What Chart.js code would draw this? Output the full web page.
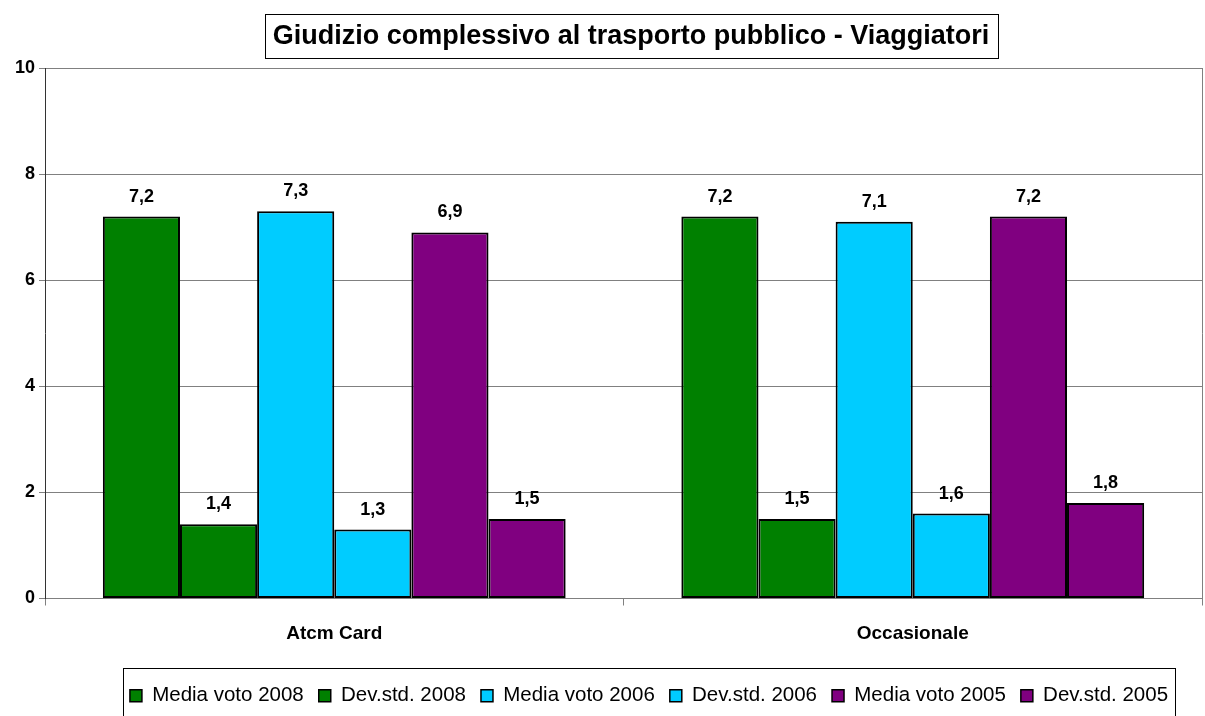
<!DOCTYPE html>
<html>
<head>
<meta charset="utf-8">
<script src="https://cdn.jsdelivr.net/npm/chart.js@4/dist/chart.umd.min.js"></script>
<style>
  html, body { margin: 0; padding: 0; background: #fff; }
  #wrap { width: 1205px; height: 716px; position: relative; }
</style>
</head>
<body>
<div id="wrap"><canvas id="chart"></canvas></div>
<script>
const categories = ['Atcm Card', 'Occasionale'];
const seriesNames = ['Media voto 2008', 'Dev.std. 2008', 'Media voto 2006', 'Dev.std. 2006', 'Media voto 2005', 'Dev.std. 2005'];
const media2008 = [7.2, 7.2];
const dev2008 = [1.4, 1.5];
const media2006 = [7.3, 7.1];
const dev2006 = [1.3, 1.6];
const media2005 = [6.9, 7.2];
const dev2005 = [1.5, 1.8];
const yTicks = [0, 2, 4, 6, 8, 10];
const titleText = 'Giudizio complessivo al trasporto pubblico - Viaggiatori';

const GREEN = '#008000';
const CYAN = '#00CCFF';
const PURPLE = '#800080';
const FONT = '"Liberation Sans", Arial, Helvetica, sans-serif';

const seriesValues = [media2008, dev2008, media2006, dev2006, media2005, dev2005];
const seriesColors = [GREEN, GREEN, CYAN, CYAN, PURPLE, PURPLE];

const datasets = seriesNames.map((name, i) => ({
  label: name,
  data: seriesValues[i],
  backgroundColor: seriesColors[i],
  borderColor: '#000',
  borderWidth: 2,
  borderSkipped: false
}));

const titleBox = {
  id: 'titleBox',
  afterDraw(chart) {
    const c = chart.ctx;
    c.save();
    c.font = 'bold 27px ' + FONT;
    c.fillStyle = '#000';
    c.textAlign = 'center';
    c.textBaseline = 'middle';
    const cx = 631, cy = 37;
    const w = c.measureText(titleText).width;
    c.fillText(titleText, cx, cy);
    c.strokeStyle = '#000';
    c.lineWidth = 1;
    c.strokeRect(Math.round(cx - w / 2 - 8) + 0.5, 14.5, Math.round(w + 16), 44);
    c.restore();
  }
};

const valueLabels = {
  id: 'valueLabels',
  afterDatasetsDraw(chart) {
    const c = chart.ctx;
    c.save();
    c.font = 'bold 18px ' + FONT;
    c.fillStyle = '#000';
    c.textAlign = 'center';
    c.textBaseline = 'bottom';
    chart.data.datasets.forEach((ds, i) => {
      chart.getDatasetMeta(i).data.forEach((bar, j) => {
        c.fillText(ds.data[j].toFixed(1).replace('.', ','), bar.x, bar.y - 11);
      });
    });
    c.restore();
  }
};

// the legend in the original sits a bit right of centre, with a frame round it
const legendBox = {
  id: 'legendBox',
  afterLayout(chart) {
    chart.legend.left += 48;
    chart.legend.right += 48;
  },
  afterDraw(chart) {
    const boxes = chart.legend.legendHitBoxes;
    if (!boxes || !boxes.length) return;
    const left = Math.min(...boxes.map(b => b.left));
    const right = Math.max(...boxes.map(b => b.left + b.width));
    const c = chart.ctx;
    c.save();
    c.strokeStyle = '#000';
    c.lineWidth = 1;
    c.strokeRect(Math.round(left - 7) + 0.5, 668.5, Math.round(right - left + 14), 60);
    c.restore();
  }
};

new Chart(document.getElementById('chart'), {
  type: 'bar',
  data: { labels: categories, datasets },
  options: {
    responsive: true,
    maintainAspectRatio: false,
    animation: false,
    layout: { padding: { top: 68, right: 3, left: 0, bottom: 0 } },
    datasets: { bar: { categoryPercentage: 0.8, barPercentage: 1.0 } },
    plugins: {
      title: { display: false },
      tooltip: { enabled: false },
      legend: {
        position: 'bottom',
        labels: {
          color: '#000',
          font: { family: FONT, size: 20.5 },
          boxWidth: 12,
          boxHeight: 12,
          padding: 15,
          generateLabels(chart) {
            return chart.data.datasets.map((ds, i) => ({
              text: ds.label,
              fillStyle: ds.backgroundColor,
              strokeStyle: '#000',
              lineWidth: 1.5,
              datasetIndex: i,
              fontColor: '#000'
            }));
          }
        }
      }
    },
    scales: {
      x: {
        afterFit(scale) { scale.height = 72; },
        grid: { display: true, offset: true, drawOnChartArea: false, tickLength: 7, color: '#808080' },
        border: { color: '#808080', width: 1 },
        ticks: { color: '#000', font: { family: FONT, size: 19, weight: 'bold' }, padding: 17 }
      },
      y: {
        min: 0,
        max: 10,
        afterFit(scale) { scale.width = 45; },
        afterBuildTicks(scale) { scale.ticks = yTicks.map(v => ({ value: v })); },
        grid: { color: '#808080', lineWidth: 1, tickLength: 6 },
        border: { color: '#333', width: 1 },
        ticks: { color: '#000', font: { family: FONT, size: 18, weight: 'bold' }, padding: 4 }
      }
    }
  },
  plugins: [titleBox, valueLabels, legendBox, {
    id: 'rightEdge',
    afterDraw(chart) {
      const { ctx: c, chartArea: a } = chart;
      c.save();
      c.strokeStyle = '#808080';
      c.lineWidth = 1;
      c.beginPath();
      c.moveTo(Math.round(a.right) + 0.5, a.top);
      c.lineTo(Math.round(a.right) + 0.5, a.bottom);
      c.stroke();
      c.restore();
    }
  }]
});
</script>
</body>
</html>
